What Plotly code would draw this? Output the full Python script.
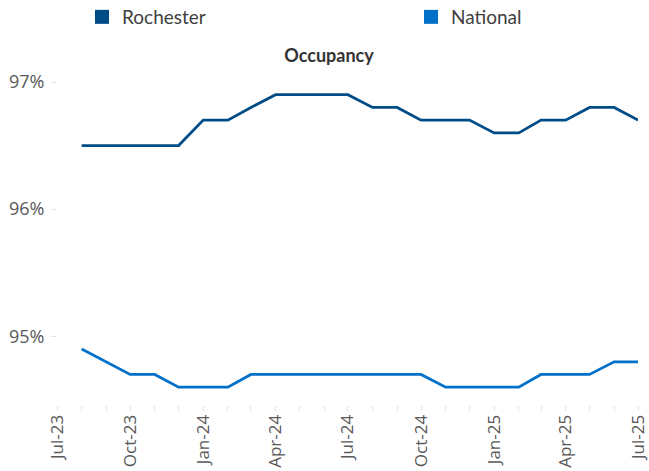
import plotly.graph_objects as go

months = ["2023-08-01", "2023-09-01", "2023-10-01", "2023-11-01", "2023-12-01",
          "2024-01-01", "2024-02-01", "2024-03-01", "2024-04-01", "2024-05-01",
          "2024-06-01", "2024-07-01", "2024-08-01", "2024-09-01", "2024-10-01",
          "2024-11-01", "2024-12-01", "2025-01-01", "2025-02-01", "2025-03-01",
          "2025-04-01", "2025-05-01", "2025-06-01", "2025-07-01"]

rochester = [96.5, 96.5, 96.5, 96.5, 96.5, 96.7, 96.7, 96.8, 96.9, 96.9, 96.9, 96.9,
             96.8, 96.8, 96.7, 96.7, 96.7, 96.6, 96.6, 96.7, 96.7, 96.8, 96.8, 96.7]

national = [94.9, 94.8, 94.7, 94.7, 94.6, 94.6, 94.6, 94.7, 94.7, 94.7, 94.7, 94.7,
            94.7, 94.7, 94.7, 94.6, 94.6, 94.6, 94.6, 94.7, 94.7, 94.7, 94.8, 94.8]

tick_dates = ["2023-07-01", "2023-10-01", "2024-01-01", "2024-04-01", "2024-07-01",
              "2024-10-01", "2025-01-01", "2025-04-01", "2025-07-01"]
tick_labels = ["Jul-23", "Oct-23", "Jan-24", "Apr-24", "Jul-24",
               "Oct-24", "Jan-25", "Apr-25", "Jul-25"]
y_ticks = [95, 96, 97]
y_labels = ["95%", "96%", "97%"]

series = [("Rochester", rochester, "#004C87", "legend"),
          ("National", national, "#0070C9", "legend2")]

fig = go.Figure()
for name, vals, col, lg in series:
    fig.add_trace(go.Scatter(x=months, y=vals, mode="lines", name=name,
                             line=dict(color=col, width=2.75),
                             legendgroup=name, showlegend=False,
                             hoverinfo="skip"))
    fig.add_trace(go.Scatter(x=[None], y=[None], mode="markers", name=name,
                             marker=dict(symbol="square", size=14, color=col),
                             legendgroup=name, showlegend=True, legend=lg))

leg_common = dict(orientation="h", xanchor="left", yanchor="middle",
                  yref="container", xref="container",
                  font=dict(family="Lato", size=19, color="#404040"),
                  bgcolor="rgba(0,0,0,0)", itemclick=False, borderwidth=0)

fig.update_layout(
    width=649, height=471,
    margin=dict(l=57, r=11, t=82, b=66, autoexpand=False),
    paper_bgcolor="white", plot_bgcolor="white",
    font=dict(family="Open Sans", color="#595959"),
    title=dict(text="<b>Occupancy</b>", x=329/649, xref="container", xanchor="center",
               y=1 - 56/471, yref="container", yanchor="middle",
               font=dict(family="Lato", size=18, color="#333333")),
    legend=dict(x=82/649, y=1 - 17/471, **leg_common),
    legend2=dict(x=411/649, y=1 - 17/471, **leg_common),
    showlegend=True,
)

fig.update_xaxes(
    type="date",
    range=["2023-07-01", "2025-07-01"],
    tickvals=tick_dates, ticktext=tick_labels,
    tickangle=-90,
    tickfont=dict(family="Open Sans", size=17, color="#595959"),
    ticks="outside", ticklen=5, tickcolor="#E3E3E3", tickwidth=1,
    ticklabelstandoff=-3,
    minor=dict(ticks="outside", ticklen=5, tickcolor="#E3E3E3", dtick="M1",
               tick0="2023-07-01", showgrid=False),
    showgrid=False, zeroline=False, showline=False, automargin=False,
)

fig.update_yaxes(
    range=[94.46, 97.0],
    tickvals=y_ticks, ticktext=y_labels,
    tickfont=dict(family="Open Sans", size=18, color="#595959"),
    ticks="outside", ticklen=5, tickcolor="#E3E3E3", tickwidth=1,
    ticklabelstandoff=3,
    showgrid=False, zeroline=False, showline=False, automargin=False,
)

fig.write_html("out.html", config={"displayModeBar": False},
               post_script="document.body.style.margin='0px';document.body.style.padding='0px';")
